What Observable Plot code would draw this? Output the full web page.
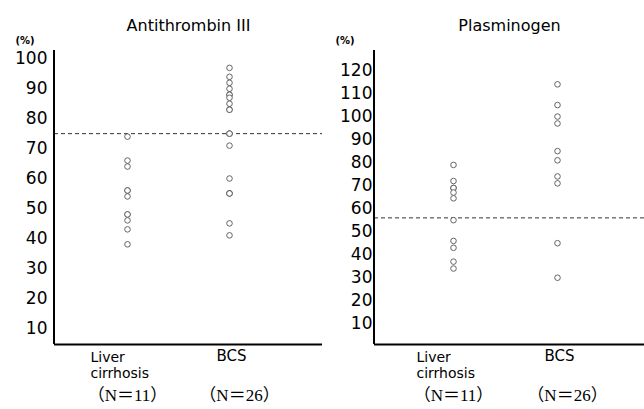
<!DOCTYPE html>
<html>
<head>
<meta charset="utf-8">
<script src="https://cdn.jsdelivr.net/npm/d3@7"></script>
<script src="https://cdn.jsdelivr.net/npm/@observablehq/plot@0.6"></script>
<style>
  html, body { margin: 0; padding: 0; background: #fff; }
  #wrap { display: flex; width: 644px; height: 409px; overflow: hidden; }
  #wrap > svg { flex: none; }
</style>
</head>
<body>
<div id="wrap"></div>
<script>
// ---- data ----
const groups = ["Liver cirrhosis", "BCS"];
const groupLabels = ["Liver\ncirrhosis", "BCS"];
const groupN = ["（N＝11）", "（N＝26）"];

const at3Title = "Antithrombin III";
const at3Liver = [74, 66, 64, 56, 56, 54, 48, 48, 46, 43, 38];
const at3BCS = [97, 94, 92, 90, 88, 88, 87, 85, 83, 83, 75, 75, 75, 71, 60, 55, 55, 55, 45, 41];
const at3Normal = 75;
const at3Ticks = [10, 20, 30, 40, 50, 60, 70, 80, 90, 100];

const plgTitle = "Plasminogen";
const plgLiver = [79, 72, 69, 69, 67, 64.5, 55, 46, 43, 37, 34];
const plgBCS = [114, 105, 100, 97, 85, 81, 74, 71, 45, 30];
const plgNormal = 56;
const plgTicks = [10, 20, 30, 40, 50, 60, 70, 80, 90, 100, 110, 120];

const unitLabel = "(%)";

// ---- drawing ----
function yAxisLine(index, scales, values, dims) {
  const g = d3.create("svg:g");
  g.append("line")
    .attr("x1", dims.marginLeft).attr("x2", dims.marginLeft)
    .attr("y1", dims.marginTop).attr("y2", dims.height - dims.marginBottom)
    .attr("stroke", "#000").attr("stroke-width", 2);
  return g.node();
}

function panel({title, liver, bcs, normal, ticks, yDomain, marginLeft, tickPadding, padding, align}) {
  const rows = [
    ...liver.map(v => ({g: groups[0], v})),
    ...bcs.map(v => ({g: groups[1], v}))
  ];
  const cats = groups.map((g, i) => ({g, label: groupLabels[i], n: groupN[i]}));
  const first = cats.filter(d => d.g === groups[0]);
  const second = cats.filter(d => d.g === groups[1]);
  const nFont = "Liberation Serif, Noto Sans CJK JP";
  return Plot.plot({
    width: 322,
    height: 409,
    marginLeft,
    marginRight: 0,
    marginTop: 50,
    marginBottom: 65,
    style: {fontFamily: "DejaVu Sans", fontSize: "17px", color: "#000", background: "#fff"},
    x: {type: "point", domain: groups, padding, align, axis: null},
    y: {domain: yDomain, ticks, tickSize: 0, tickPadding, label: null},
    marks: [
      Plot.ruleY([normal], {stroke: "#333", strokeWidth: 1, strokeDasharray: "4,3"}),
      Plot.dot(rows, {x: "g", y: "v", r: 2.8, stroke: "#555", strokeWidth: 0.9, fill: "white"}),
      Plot.ruleY([yDomain[0]], {stroke: "#000", strokeWidth: 2}),
      yAxisLine,
      Plot.text([title], {frameAnchor: "top", dy: -31, fontSize: 16}),
      Plot.text([unitLabel], {frameAnchor: "top-left", textAnchor: "start", dx: -39, dy: -14, fontSize: 10, fontWeight: "bold"}),
      Plot.text(first, {x: "g", text: "label", frameAnchor: "bottom", lineAnchor: "top", textAnchor: "start", dx: -37, dy: 6, fontSize: 14, lineHeight: 1.15}),
      Plot.text(second, {x: "g", text: "label", frameAnchor: "bottom", lineAnchor: "top", dx: 2, dy: 6, fontSize: 15}),
      Plot.text(first, {x: "g", text: "n", frameAnchor: "bottom", lineAnchor: "middle", dy: 51, fontSize: 17, fontFamily: nFont}),
      Plot.text(second, {x: "g", text: "n", frameAnchor: "bottom", lineAnchor: "middle", dx: 10, dy: 51, fontSize: 17, fontFamily: nFont}),
    ]
  });
}

const wrap = document.getElementById("wrap");
wrap.append(panel({
  title: at3Title, liver: at3Liver, bcs: at3BCS, normal: at3Normal, ticks: at3Ticks,
  yDomain: [4.5, 102.8], marginLeft: 54, tickPadding: 7, padding: 0.801, align: 0.442
}));
wrap.append(panel({
  title: plgTitle, liver: plgLiver, bcs: plgBCS, normal: plgNormal, ticks: plgTicks,
  yDomain: [1, 128.7], marginLeft: 52, tickPadding: 2, padding: 0.798, align: 0.476
}));
</script>
</body>
</html>
